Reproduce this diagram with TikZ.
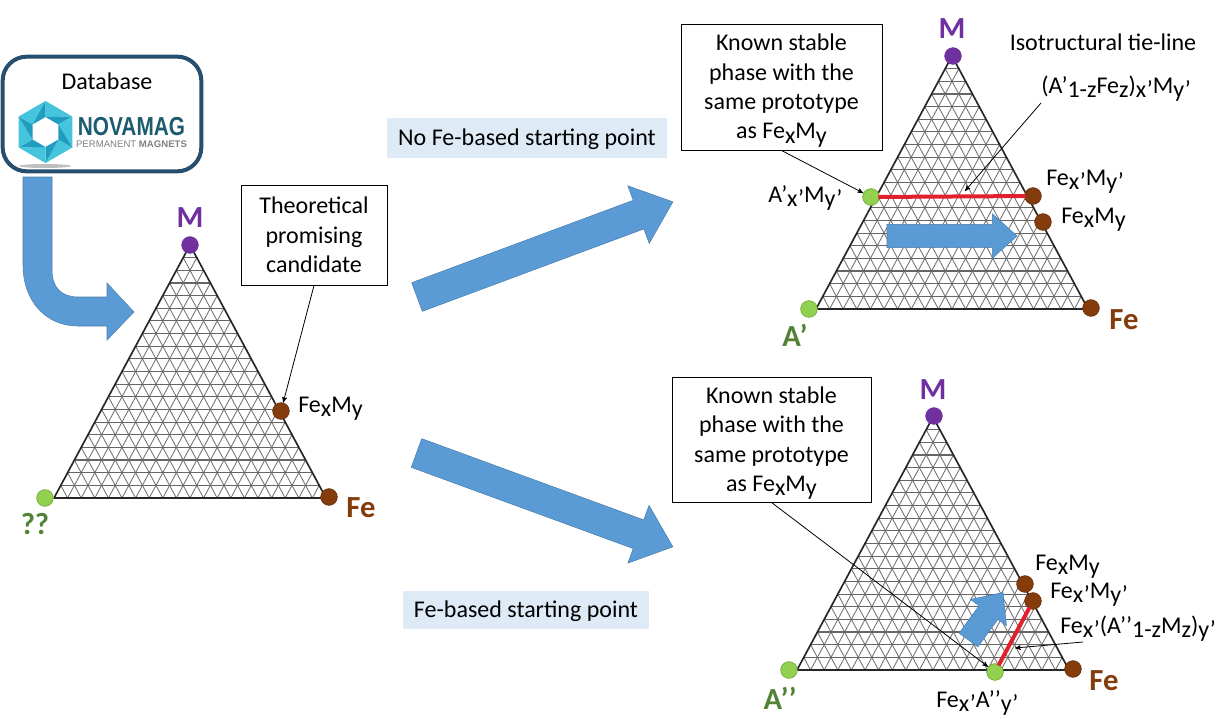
\documentclass[tikz,border=0pt]{standalone}
\usepackage{fontspec}
\setmainfont{Carlito}
\usetikzlibrary{arrows,shapes.arrows}
\definecolor{blockblue}{HTML}{5B9BD5}
\definecolor{blockedge}{HTML}{4A7FAF}
\definecolor{paleblue}{HTML}{DEEBF7}
\definecolor{framenavy}{HTML}{264E6E}
\definecolor{mpurple}{HTML}{7030A0}
\definecolor{febrown}{HTML}{843C0C}
\definecolor{agreen}{HTML}{92D050}
\definecolor{agreenedge}{HTML}{6FA63C}
\definecolor{labelgreen}{HTML}{548235}
\definecolor{tiered}{HTML}{E2202C}
\definecolor{hexlight}{HTML}{45C4DE}
\definecolor{hexdark}{HTML}{1F9CC0}
\definecolor{novateal}{HTML}{1C5C70}
\newcommand{\bodyfont}{\fontsize{18}{22}\selectfont}
\newcommand{\elemfont}{\fontsize{23}{26}\selectfont\bfseries}
\newcommand{\lowr}[1]{\raisebox{-.38ex}{#1}}
\newcommand{\firstline}{\rule{0pt}{18pt}}
\newcommand{\ternary}[2]{
  \begin{scope}[shift={(#1,#2)}]
    \foreach \i in {1,...,19} {
      \draw[gridrow] ({-\i*6.8},{\i*12.65}) -- ({\i*6.8},{\i*12.65});
      \draw[griddiag] ({-136+\i*13.6},253) -- ({\i*6.8},{\i*12.65});
      \draw[griddiag] ({136-\i*13.6},253) -- ({-\i*6.8},{\i*12.65});
    }
    \draw[gridedge] (0,0) -- (-136,253) -- (136,253) -- cycle;
  \end{scope}
}
\tikzset{
  bigarrow/.style={single arrow,draw=blockedge,fill=blockblue,anchor=tail,inner xsep=0pt,inner ysep=11.25pt,outer sep=0pt,
    minimum width=45.75pt,minimum height=204.75pt,single arrow head extend=11.6pt,
    single arrow tip angle=80,single arrow head indent=0pt},
  smallarrow/.style={single arrow,draw=blockedge,fill=blockblue,anchor=tail,inner xsep=0pt,inner ysep=8.5pt,outer sep=0pt,
    minimum width=33pt,single arrow head extend=8pt,single arrow tip angle=84,single arrow head indent=0pt},
}
\begin{document}
\begin{tikzpicture}[x=.75pt,y=-.75pt,font=\bodyfont,>=stealth',
  gridrow/.style={black!60,line width=.85pt},
  griddiag/.style={black!55,line width=.65pt},
  gridedge/.style={black!85,line width=1.25pt,line join=round},
  dot/.style={circle,inner sep=0pt,minimum size=12.5pt,line width=.5pt},
  m dot/.style={dot,fill=mpurple,draw=mpurple},
  fe dot/.style={dot,fill=febrown,draw=febrown!80!black},
  a dot/.style={dot,fill=agreen,draw=agreenedge},
  text box/.style={draw=black,fill=white,line width=.7pt,align=center,inner sep=0pt},
  banner/.style={fill=paleblue,inner sep=0pt,text height=13pt,text depth=1.1pt},
  formula/.style={anchor=base west,inner sep=0pt},
  pointer/.style={->,line width=.6pt},
  tie/.style={tiered,line width=3pt,shorten >=-1pt,shorten <=-1pt}]
  \useasboundingbox (0,0) rectangle (1218,718);

  \ternary{190}{245}
  \ternary{952}{56}
  \ternary{933}{417}

  \node[draw=framenavy,line width=3pt,rounded corners=18pt,minimum width=149pt,minimum height=86pt,fill=white] (database) at (102,114) {};
  \node (database_title) at (107,81) {Database};
  \fill[black!25] (45,166) ellipse (26 and 2);
  \foreach \a in {30,90,...,330} {
    \fill[hexlight] ({45.5+31*cos(\a)},{132+31*sin(\a)}) -- ({45.5+31*cos(\a+60)},{132+31*sin(\a+60)}) -- ({45.5+15*cos(\a)},{132+15*sin(\a)}) -- cycle;
    \fill[hexdark] ({45.5+15*cos(\a)},{132+15*sin(\a)}) -- ({45.5+15*cos(\a+60)},{132+15*sin(\a+60)}) -- ({45.5+31*cos(\a+60)},{132+31*sin(\a+60)}) -- cycle;
  }
  \node[font=\fontspec{Liberation Sans}\fontsize{19.5}{20}\selectfont\bfseries,text=novateal,xscale=.8,inner sep=0pt] (novamag) at (131.5,127) {NOVAMAG};
  \node[font=\fontspec{Liberation Sans}\fontsize{7.2}{7.2}\selectfont,text=black!50,inner sep=0pt] (permanent) at (131.5,144.5) {PERMANENT \textbf{MAGNETS}};

  \fill[blockblue,draw=blockedge,line width=.4pt] (23,177) -- (52,177) -- (52,270) .. controls (52,288) and (62,297) .. (78,297) -- (107,297) -- (107,283) -- (134,312) -- (107,340) -- (107,326) -- (78,326) .. controls (45,326) and (23,300) .. (23,265) -- cycle;
  \node[bigarrow,rotate=20.4] (to_tie) at (417,297) {};
  \node[bigarrow,rotate=-20.1] (to_fe) at (416.5,453) {};
  \node[smallarrow,minimum height=97.5pt] (shift_top) at (887,236) {};
  \node[smallarrow,rotate=54,minimum height=44pt] (shift_bottom) at (968.5,640) {};

  \node[m dot] (m_left) at (190,245) {};
  \node[a dot] (a_left) at (45,498) {};
  \node[fe dot] (fe_left) at (329,497) {};
  \node[fe dot] (cand_left) at (281,411) {};
  \node[text=mpurple,font=\elemfont] at (190,218) (m_left_lbl) {M};
  \node[text=labelgreen,font=\elemfont] at (35,524) (a_left_lbl) {??};
  \node[text=febrown,font=\elemfont] at (361,508) (fe_left_lbl) {Fe};
  \node[formula] at (298,412) (cand_left_lbl) {Fe\lowr{x}M\lowr{y}};
  \node[text box,minimum width=109.5pt,minimum height=75pt] (theory_box) at (314,235) {Theoretical\\promising\\candidate};
  \draw[pointer] (theory_box.south) -- (cand_left);

  \node[banner,minimum width=210pt,minimum height=30pt] (no_fe) at (527,138) {No Fe-based starting point};
  \node[banner,minimum width=184.5pt,minimum height=28.5pt] (with_fe) at (526,610) {Fe-based starting point};

  \node[m dot] (m_top) at (953,56) {};
  \node[a dot] (a_top) at (809,309) {};
  \node[fe dot] (fe_top) at (1091,308) {};
  \node[a dot] (tie_a_top) at (871,197) {};
  \node[fe dot] (tie_fe_top) at (1033,196) {};
  \node[fe dot] (cand_top) at (1043,222) {};
  \draw[tie] (tie_a_top) -- (tie_fe_top);
  \coordinate (tie_mid_top) at (965,191);
  \node[text=mpurple,font=\elemfont] at (952,29) (m_top_lbl) {M};
  \node[text=labelgreen,font=\elemfont] at (795,335) (a_top_lbl) {A’};
  \node[text=febrown,font=\elemfont] at (1124,320) (fe_top_lbl) {Fe};
  \node at (1103,42) (iso_lbl) {Isotructural tie-line};
  \node[formula] at (1041,93) (tie_top_lbl) {(A’\lowr{1-z}Fe\lowr{z})\lowr{x’}M\lowr{y’}};
  \coordinate (tie_start_top) at (1041,103);
  \node[formula] at (1046,185) (tie_fe_top_lbl) {Fe\lowr{x’}M\lowr{y’}};
  \node[formula] at (1061,223) (cand_top_lbl) {Fe\lowr{x}M\lowr{y}};
  \node[formula] at (768,202) (tie_a_top_lbl) {A’\lowr{x’}M\lowr{y’}};
  \node[text box,minimum width=150.75pt,minimum height=94.5pt] (known_top) at (781.5,87) {\firstline Known stable\\phase with the\\same prototype\\as Fe\lowr{x}M\lowr{y}};
  \draw[pointer] (known_top.south) -- (tie_a_top);
  \draw[pointer] (tie_start_top) -- (tie_mid_top);

  \node[m dot] (m_bottom) at (934,416) {};
  \node[a dot] (a_bottom) at (789,670) {};
  \node[fe dot] (fe_bottom) at (1073,669) {};
  \node[fe dot] (cand_bottom) at (1025,584) {};
  \node[fe dot] (tie_m_bottom) at (1033,601) {};
  \node[a dot] (tie_a_bottom) at (995,672) {};
  \draw[tie] (tie_a_bottom) -- (tie_m_bottom);
  \coordinate (tie_mid_bottom) at (1015,648);
  \coordinate (tie_start_bottom) at (1083,642);
  \node[text=mpurple,font=\elemfont] at (933,390) (m_bottom_lbl) {M};
  \node[text=labelgreen,font=\elemfont] at (780,698) (a_bottom_lbl) {A’’};
  \node[text=febrown,font=\elemfont] at (1104,681) (fe_bottom_lbl) {Fe};
  \node[formula] at (1035,570) (cand_bottom_lbl) {Fe\lowr{x}M\lowr{y}};
  \node[formula] at (1050,598) (tie_m_bottom_lbl) {Fe\lowr{x’}M\lowr{y’}};
  \node[formula] at (1060,633) (tie_bottom_lbl) {Fe\lowr{x’}(A’’\lowr{1-z}M\lowr{z})\lowr{y’}};
  \node[formula] at (936,707) (tie_a_bottom_lbl) {Fe\lowr{x’}A’’\lowr{y’}};
  \node[text box,minimum width=149.25pt,minimum height=93.75pt] (known_bottom) at (771.5,439.5) {\firstline Known stable\\phase with the\\same prototype\\as Fe\lowr{x}M\lowr{y}};
  \draw[pointer] (known_bottom.south) -- (tie_a_bottom);
  \draw[pointer] (tie_start_bottom) -- (tie_mid_bottom);
\end{tikzpicture}
\end{document}
